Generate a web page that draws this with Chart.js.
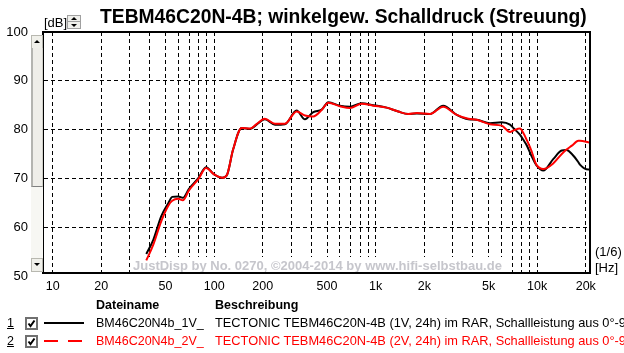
<!DOCTYPE html>
<html><head><meta charset="utf-8">
<script src="https://cdn.jsdelivr.net/npm/chart.js@4"></script>
<style>
html,body{margin:0;padding:0;background:#fff;overflow:hidden;}
body{width:624px;height:353px;position:relative;font-family:"Liberation Sans",Arial,sans-serif;color:#000;}
#c{position:absolute;left:0;top:0;}
.t{position:absolute;white-space:nowrap;line-height:1;}
.d{font-size:12.8px;}
.cb{position:absolute;width:9px;height:9px;border:2px solid #707070;background:#fff;}
</style></head><body>
<canvas id="c" width="624" height="353"></canvas>

<div class="t" id="title" style="left:100px;top:7px;font-size:19.3px;font-weight:bold;">TEBM46C20N-4B; winkelgew. Schalldruck (Streuung)</div>
<div class="t" style="left:44px;top:16px;font-size:13px;">[dB]</div>
<div style="position:absolute;left:67px;top:15px;width:12px;height:12px;border:1px solid #a0a0a0;background:#f0f0ec;">
  <div style="position:absolute;left:3px;top:1px;width:0;height:0;border-left:3px solid transparent;border-right:3px solid transparent;border-bottom:3px solid #000;"></div>
  <div style="position:absolute;left:0;top:5px;width:12px;height:1px;background:#a0a0a0;"></div>
  <div style="position:absolute;left:3px;top:8px;width:0;height:0;border-left:3px solid transparent;border-right:3px solid transparent;border-top:3px solid #000;"></div>
</div>

<!-- scrollbar -->
<div style="position:absolute;left:31px;top:35px;width:12px;height:237px;background:#f7f7f3;">
  <div style="position:absolute;left:0;top:0;width:10px;height:12px;border:1px solid #b8b8b0;background:#f0f0ea;">
    <div style="position:absolute;left:2px;top:4px;width:0;height:0;border-left:3px solid transparent;border-right:3px solid transparent;border-bottom:3px solid #000;"></div>
  </div>
  <div style="position:absolute;left:0;top:13px;width:9px;height:138px;border-left:2px solid #b4b4b0;border-right:1px solid #d0d0c8;border-bottom:1px solid #808080;background:#efeee9;"></div>
  <div style="position:absolute;left:0;top:223px;width:10px;height:12px;border:1px solid #b8b8b0;background:#f0f0ea;">
    <div style="position:absolute;left:2px;top:4px;width:0;height:0;border-left:3px solid transparent;border-right:3px solid transparent;border-top:3px solid #000;"></div>
  </div>
</div>

<div class="t" style="left:595px;top:245px;font-size:13px;">(1/6)</div>
<div class="t" style="left:595px;top:261px;font-size:13px;">[Hz]</div>

<!-- legend -->
<div class="t" style="left:96px;top:299px;font-size:12.5px;font-weight:bold;">Dateiname</div>
<div class="t" style="left:215px;top:299px;font-size:12.5px;font-weight:bold;">Beschreibung</div>

<div class="t" style="left:7px;top:317px;font-size:12.5px;text-decoration:underline;">1</div>
<div class="cb" style="left:25px;top:317px;"><svg width="9" height="9" style="position:absolute;left:0;top:0"><path d="M1.5 4.5 L3.5 7 L7.5 1.5" stroke="#000" stroke-width="2" fill="none"/></svg></div>
<div style="position:absolute;left:44px;top:322px;width:40px;height:2px;background:#000;"></div>
<div class="t" style="left:96px;top:317px;font-size:12.5px;">BM46C20N4b_1V_</div>
<div class="t d" style="left:215px;top:317px;">TECTONIC TEBM46C20N-4B (1V, 24h) im RAR, Schallleistung aus 0°-90°</div>

<div class="t" style="left:7px;top:335px;font-size:12.5px;text-decoration:underline;">2</div>
<div class="cb" style="left:25px;top:335px;"><svg width="9" height="9" style="position:absolute;left:0;top:0"><path d="M1.5 4.5 L3.5 7 L7.5 1.5" stroke="#000" stroke-width="2" fill="none"/></svg></div>
<svg style="position:absolute;left:44px;top:339px;" width="40" height="4"><line x1="0" y1="2" x2="40" y2="2" stroke="#ff0000" stroke-width="2" stroke-dasharray="14,10"/></svg>
<div class="t" style="left:96px;top:335px;font-size:12.5px;color:#ff0000;">BM46C20N4b_2V_</div>
<div class="t d" style="left:215px;top:335px;color:#ff0000;">TECTONIC TEBM46C20N-4B (2V, 24h) im RAR, Schallleistung aus 0°-90°</div>

<script>
// ---- data ----
const freqs = [38, 42, 47, 52, 55, 60, 64, 70, 80, 89, 100, 112, 120, 131, 148, 167, 183, 206, 238, 274, 324, 365, 411, 463, 509, 600, 693, 820, 966, 1170, 1380, 1590, 1800, 2170, 2620, 3180, 3750, 4220, 5100, 6030, 6790, 7130, 7840, 8210, 8610, 9250, 9680, 9930, 10900, 12600, 14200, 15200, 16400, 18000, 18400, 20700, 21300];
const level1V = [54.5, 57.4, 62.2, 64.9, 66.2, 66.3, 66.0, 67.9, 70.1, 72.3, 70.8, 70.1, 70.7, 75.9, 80.3, 80.1, 81.0, 82.1, 81.0, 81.1, 83.9, 82.1, 83.6, 84.1, 85.6, 84.9, 84.7, 85.4, 85.0, 84.5, 83.7, 83.2, 83.3, 83.2, 84.9, 83.0, 82.1, 82.0, 81.3, 81.5, 81.0, 80.3, 78.9, 77.9, 76.8, 74.5, 73.2, 72.6, 71.6, 74.0, 75.7, 75.8, 75.0, 73.3, 72.8, 71.8, 71.8];
const level2V = [53.2, 56.4, 61.2, 64.4, 65.4, 65.8, 65.5, 67.6, 69.9, 72.1, 70.8, 70.1, 70.7, 75.9, 80.3, 80.2, 81.1, 82.2, 81.2, 81.2, 83.7, 82.9, 82.7, 84.0, 85.5, 84.8, 84.4, 85.3, 84.9, 84.5, 83.7, 83.2, 83.4, 83.2, 84.7, 83.0, 82.2, 82.0, 81.1, 80.8, 79.5, 79.8, 80.2, 79.3, 77.9, 75.5, 73.5, 72.7, 71.9, 73.1, 75.0, 75.9, 76.7, 77.7, 77.7, 77.4, 77.3];
const yTickValues = [50, 60, 70, 80, 90, 100];
const xGridValues = [10,20,30,40,50,60,70,80,90,100,200,300,400,500,600,700,800,900,1000,2000,3000,4000,5000,6000,7000,8000,9000,10000,20000];
const xLabelValues = [10, 20, 50, 100, 200, 500, 1000, 2000, 5000, 10000, 20000];
const xLabelTexts = ['10', '20', '50', '100', '200', '500', '1k', '2k', '5k', '10k', '20k'];
const seriesNames = ['BM46C20N4b_1V_', 'BM46C20N4b_2V_'];
const watermark = 'JustDisp by No. 0270, \u00A92004-2014 by www.hifi-selbstbau.de';

const FONT = '"Liberation Sans", Arial, sans-serif';

const decor = {
  id: 'decor',
  beforeDatasetsDraw(chart) {
    const ctx = chart.ctx;
    ctx.save();
    ctx.font = 'bold 13px ' + FONT;
    const w = ctx.measureText(watermark).width;
    ctx.fillStyle = '#fff';
    ctx.fillRect(131, 257, w + 4, 15);
    ctx.fillStyle = '#c6c6cc';
    ctx.textBaseline = 'alphabetic';
    ctx.fillText(watermark, 133, 270);
    ctx.restore();
  },
  afterDraw(chart) {
    const ctx = chart.ctx;
    const a = chart.chartArea;
    ctx.save();
    ctx.strokeStyle = '#000';
    ctx.lineWidth = 2;
    ctx.strokeRect(a.left - 1, a.top, a.right - a.left, a.bottom - a.top);
    ctx.restore();
  }
};

new Chart(document.getElementById('c'), {
  type: 'line',
  data: {
    datasets: [
      { label: seriesNames[0], data: freqs.map((f, i) => ({ x: f, y: level1V[i] })), borderColor: '#000000', borderWidth: 2, pointRadius: 0, cubicInterpolationMode: 'monotone', order: 2 },
      { label: seriesNames[1], data: freqs.map((f, i) => ({ x: f, y: level2V[i] })), borderColor: '#ff0000', borderWidth: 2, pointRadius: 0, cubicInterpolationMode: 'monotone', order: 1 }
    ]
  },
  options: {
    responsive: false,
    animation: false,
    devicePixelRatio: 1,
    layout: { padding: { left: 0, top: 32, right: 33, bottom: 60 } },
    plugins: { legend: { display: false }, tooltip: { enabled: false }, title: { display: false } },
    scales: {
      x: {
        type: 'logarithmic',
        min: 8.84, max: 21540,
        afterBuildTicks: s => { s.ticks = xGridValues.map(v => ({ value: v })); },
        afterFit: s => { s.height = 20; },
        grid: { color: '#000', lineWidth: 1, drawTicks: false },
        border: { display: false, dash: [4, 3] },
        ticks: {
          autoSkip: false, maxRotation: 0, minRotation: 0, padding: 6, color: '#000',
          font: { family: FONT, size: 12.5 },
          callback: v => { const i = xLabelValues.indexOf(Math.round(v)); return i >= 0 ? xLabelTexts[i] : ''; }
        }
      },
      y: {
        type: 'linear',
        min: 50.6, max: 100,
        afterBuildTicks: s => { s.ticks = yTickValues.map(v => ({ value: v })); },
        afterFit: s => { s.width = 44; },
        grid: { color: c => (c.tick && (c.tick.value === 50 || c.tick.value === 100)) ? 'rgba(0,0,0,0)' : '#000', lineWidth: 1, drawTicks: false },
        border: { display: false, dash: [4, 3] },
        ticks: { padding: 16, color: '#000', font: { family: FONT, size: 13 }, callback: v => String(v) }
      }
    }
  },
  plugins: [decor]
});
</script>
</body></html>
